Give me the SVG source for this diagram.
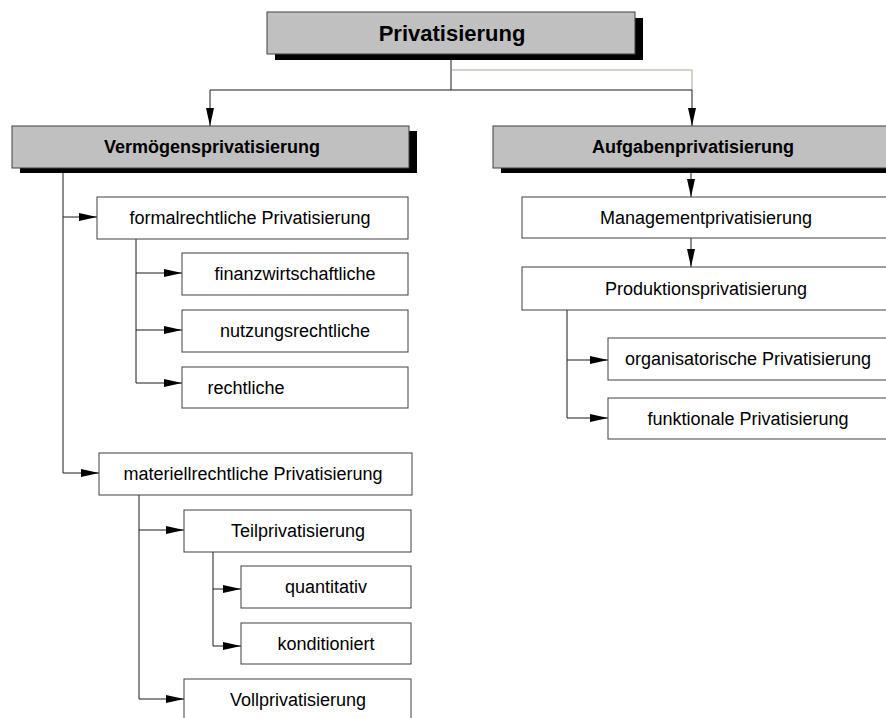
<svg xmlns="http://www.w3.org/2000/svg" width="886" height="718" viewBox="0 0 886 718">
  <defs>
    <marker id="arrow" markerUnits="userSpaceOnUse" markerWidth="18" markerHeight="8" refX="18" refY="4" orient="auto">
      <path d="M0,0 L18,4 L0,8 Z" fill="#000"/>
    </marker>
    <style>
      .box { fill: #fff; stroke: #404040; stroke-width: 1; }
      .head { fill: #c0c0c0; stroke: #404040; stroke-width: 1; }
      .shadow { fill: #000; }
      .conn { fill: none; stroke: #1a1a1a; stroke-width: 1; }
      .conn-grey { fill: none; stroke: #c8c4bc; stroke-width: 1.5; }
      .arr { marker-end: url(#arrow); }
      text { font-family: "Liberation Sans", Arial, sans-serif; fill: #000; }
      .t { font-size: 18px; text-anchor: middle; }
      .tb { font-size: 18px; font-weight: bold; text-anchor: middle; }
      .title { font-size: 22px; font-weight: bold; text-anchor: middle; }
    </style>
  </defs>
  <rect width="886" height="718" fill="#fff"/>

  <!-- connectors -->
  <g id="connectors">
    <path class="conn-grey" d="M452,70 H692 V90"/>
    <path class="conn" d="M451,54 V90 M210,90 H692"/>
    <path class="conn arr" d="M210,90 V126"/>
    <path class="conn arr" d="M692,90 V126"/>
    <!-- Vermögensprivatisierung branch -->
    <path class="conn" d="M63,168 V473"/>
    <path class="conn arr" d="M63,217 H97"/>
    <path class="conn arr" d="M63,473 H99"/>
    <!-- formalrechtliche branch -->
    <path class="conn" d="M136,239 V383"/>
    <path class="conn arr" d="M136,273 H182"/>
    <path class="conn arr" d="M136,330 H182"/>
    <path class="conn arr" d="M136,383 H182"/>
    <!-- materiellrechtliche branch -->
    <path class="conn" d="M139,495 V699"/>
    <path class="conn arr" d="M139,530 H184"/>
    <path class="conn arr" d="M139,699 H184"/>
    <!-- Teilprivatisierung branch -->
    <path class="conn" d="M213,552 V646"/>
    <path class="conn arr" d="M213,589 H241"/>
    <path class="conn arr" d="M213,646 H241"/>
    <!-- Aufgabenprivatisierung branch -->
    <path class="conn arr" d="M691,168 V197"/>
    <path class="conn arr" d="M691,238 V267"/>
    <path class="conn" d="M567,310 V418"/>
    <path class="conn arr" d="M567,360 H608"/>
    <path class="conn arr" d="M567,418 H608"/>
  </g>

  <g id="privatisierung">
    <rect class="shadow" x="275" y="18" width="368" height="42"/>
    <rect class="head" x="267" y="12" width="368" height="42"/>
    <text class="title" x="452" y="41">Privatisierung</text>
  </g>

  <g id="vermoegensprivatisierung">
    <rect class="shadow" x="20" y="131" width="397" height="42"/>
    <rect class="head" x="12" y="126" width="397" height="42"/>
    <text class="tb" x="212" y="153">Vermögensprivatisierung</text>
  </g>

  <g id="aufgabenprivatisierung">
    <rect class="shadow" x="501" y="131" width="400" height="42"/>
    <rect class="head" x="493" y="126" width="400" height="42"/>
    <text class="tb" x="693" y="153">Aufgabenprivatisierung</text>
  </g>

  <g id="formalrechtliche">
    <rect class="box" x="97" y="197" width="311" height="42"/>
    <text class="t" x="250" y="224">formalrechtliche Privatisierung</text>
  </g>

  <g id="finanzwirtschaftliche">
    <rect class="box" x="182" y="253" width="226" height="42"/>
    <text class="t" x="295" y="280">finanzwirtschaftliche</text>
  </g>

  <g id="nutzungsrechtliche">
    <rect class="box" x="182" y="310" width="226" height="42"/>
    <text class="t" x="295" y="337">nutzungsrechtliche</text>
  </g>

  <g id="rechtliche">
    <rect class="box" x="182" y="367" width="226" height="41"/>
    <text class="t" x="246" y="394">rechtliche</text>
  </g>

  <g id="materiellrechtliche">
    <rect class="box" x="99" y="453" width="313" height="42"/>
    <text class="t" x="253" y="480">materiellrechtliche Privatisierung</text>
  </g>

  <g id="teilprivatisierung">
    <rect class="box" x="184" y="510" width="227" height="42"/>
    <text class="t" x="298" y="537">Teilprivatisierung</text>
  </g>

  <g id="quantitativ">
    <rect class="box" x="241" y="566" width="170" height="42"/>
    <text class="t" x="326" y="593">quantitativ</text>
  </g>

  <g id="konditioniert">
    <rect class="box" x="241" y="623" width="170" height="41"/>
    <text class="t" x="326" y="650">konditioniert</text>
  </g>

  <g id="vollprivatisierung">
    <rect class="box" x="184" y="679" width="227" height="44"/>
    <text class="t" x="298" y="706">Vollprivatisierung</text>
  </g>

  <g id="managementprivatisierung">
    <rect class="box" x="522" y="197" width="368" height="41"/>
    <text class="t" x="706" y="224">Managementprivatisierung</text>
  </g>

  <g id="produktionsprivatisierung">
    <rect class="box" x="522" y="267" width="368" height="43"/>
    <text class="t" x="706" y="295">Produktionsprivatisierung</text>
  </g>

  <g id="organisatorische">
    <rect class="box" x="608" y="338" width="282" height="42"/>
    <text class="t" x="748" y="365">organisatorische Privatisierung</text>
  </g>

  <g id="funktionale">
    <rect class="box" x="608" y="398" width="282" height="41"/>
    <text class="t" x="748" y="425">funktionale Privatisierung</text>
  </g>
</svg>
